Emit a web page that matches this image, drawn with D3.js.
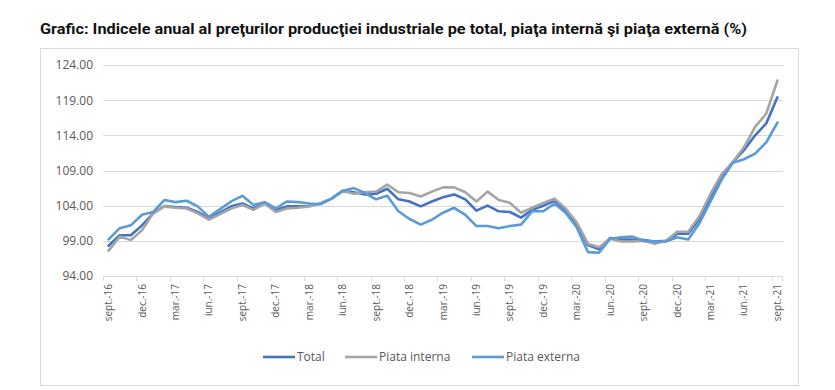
<!DOCTYPE html>
<html><head><meta charset="utf-8">
<script src="https://cdn.jsdelivr.net/npm/d3@7"></script>
<style>body{margin:0;background:#fff}svg{display:block}</style>
</head><body>
<svg id="c" width="835" height="390"></svg>
<script>
const months = ["sept.-16","oct.-16","nov.-16","dec.-16","ian.-17","feb.-17","mar.-17","apr.-17","mai-17","iun.-17","iul.-17","aug.-17",
"sept.-17","oct.-17","nov.-17","dec.-17","ian.-18","feb.-18","mar.-18","apr.-18","mai-18","iun.-18","iul.-18","aug.-18",
"sept.-18","oct.-18","nov.-18","dec.-18","ian.-19","feb.-19","mar.-19","apr.-19","mai-19","iun.-19","iul.-19","aug.-19",
"sept.-19","oct.-19","nov.-19","dec.-19","ian.-20","feb.-20","mar.-20","apr.-20","mai-20","iun.-20","iul.-20","aug.-20",
"sept.-20","oct.-20","nov.-20","dec.-20","ian.-21","feb.-21","mar.-21","apr.-21","mai-21","iun.-21","iul.-21","aug.-21","sept.-21"];
const tickLabels = ["sept.-16","dec.-16","mar.-17","iun.-17","sept.-17","dec.-17","mar.-18","iun.-18","sept.-18","dec.-18","mar.-19",
"iun.-19","sept.-19","dec.-19","mar.-20","iun.-20","sept.-20","dec.-20","mar.-21","iun.-21","sept.-21"];
const yTicks = [94,99,104,109,114,119,124];
const total = [98.3,99.8,99.8,101.2,102.9,103.95,103.8,103.7,103.1,102.2,103.0,103.9,104.3,103.6,104.4,103.4,103.9,103.9,103.95,104.3,
105.0,106.1,105.9,105.6,105.7,106.4,104.9,104.6,103.9,104.6,105.2,105.6,104.9,103.3,104.0,103.2,103.1,102.3,103.4,104.0,
104.7,103.3,101.4,98.4,97.8,99.4,99.2,99.2,99.1,98.9,99.0,100.0,100.0,102.1,105.2,108.0,110.2,111.9,114.0,115.7,119.4];
const interna = [97.6,99.6,99.1,100.5,102.9,103.9,103.7,103.6,102.9,102.0,102.8,103.6,104.1,103.4,104.3,103.1,103.6,103.7,103.9,104.3,
105.0,106.1,105.7,105.9,106.0,107.0,105.9,105.8,105.3,106.0,106.6,106.6,105.9,104.6,106.0,104.8,104.4,103.0,103.7,104.4,
105.0,103.6,101.6,98.6,98.1,99.3,98.9,98.9,99.0,98.6,99.0,100.3,100.3,102.5,105.7,108.5,110.2,112.3,115.2,117.1,121.8];
const externa = [99.2,100.8,101.2,102.7,103.1,104.8,104.5,104.7,103.9,102.4,103.5,104.6,105.4,104.1,104.5,103.6,104.6,104.5,104.3,104.2,
105.0,106.1,106.5,105.8,104.9,105.4,103.2,102.1,101.3,102.0,103.0,103.7,102.7,101.1,101.1,100.8,101.1,101.3,103.2,103.2,
104.3,103.0,100.9,97.4,97.3,99.3,99.5,99.6,99.0,98.9,98.9,99.5,99.2,101.5,104.6,107.7,110.1,110.6,111.4,113.0,115.8];
const seriesNames = ["Total","Piata interna","Piata externa"];
const seriesColors = ["#4472C4","#A5A5A5","#5B9BD5"];

const svg = d3.select("#c");
const L = 103, R = 783, T = 65, B = 276;
const x = d3.scaleBand().domain(months).range([L, R]).paddingInner(0).paddingOuter(0);
const y = d3.scaleLinear().domain([94,124]).range([B, T]);
const cx = m => x(m) + x.bandwidth()/2;

// frame
svg.append("rect").attr("x",40.5).attr("y",48.5).attr("width",758).attr("height",337)
  .attr("fill","none").attr("stroke","#D9D9D9").attr("stroke-width",1);

// title
svg.append("text").attr("x",40).attr("y",34)
  .attr("font-family","'Liberation Sans Narrow','Roboto','Open Sans',sans-serif")
  .attr("font-weight","bold").attr("font-size",15).attr("fill","#111")
  .attr("textLength",707).attr("lengthAdjust","spacingAndGlyphs")
  .text("Grafic: Indicele anual al preţurilor producţiei industriale pe total, piaţa internă şi piaţa externă (%)");

// gridlines
svg.append("g").selectAll("line").data(yTicks.filter(d=>d>94)).join("line")
  .attr("x1",L).attr("x2",R).attr("y1",d=>Math.round(y(d))+0.5).attr("y2",d=>Math.round(y(d))+0.5)
  .attr("stroke","#D9D9D9").attr("stroke-width",1);

// y axis labels
const yAxis = d3.axisLeft(y).tickValues(yTicks).tickFormat(d3.format(".2f")).tickSize(0).tickPadding(10);
const gy = svg.append("g").attr("transform",`translate(${L},0)`).call(yAxis);
gy.select(".domain").remove();
gy.selectAll("text").attr("font-family","'Open Sans',sans-serif").attr("font-size",12).attr("fill","#595959");

// x axis
const xAxis = d3.axisBottom(x).tickValues(tickLabels).tickSize(0).tickPadding(0);
const gx = svg.append("g").attr("transform",`translate(0,${B})`).call(xAxis);
gx.select(".domain").attr("stroke","#D9D9D9").attr("d",`M${L},0.5H${R}`);
gx.selectAll(".tick text").attr("font-family","'Open Sans',sans-serif").attr("font-size",10).attr("fill","#595959")
  .attr("transform","rotate(-90)").attr("text-anchor","end").attr("x",-8).attr("y",0).attr("dy","0.35em");
// boundary tick marks every 3 categories
svg.append("g").selectAll("line").data(tickLabels).join("line")
  .attr("x1",d=>Math.round(x(d))+0.5).attr("x2",d=>Math.round(x(d))+0.5)
  .attr("y1",B).attr("y2",B+5).attr("stroke","#D9D9D9");
svg.append("line").attr("x1",R-0.5).attr("x2",R-0.5).attr("y1",B).attr("y2",B+5).attr("stroke","#D9D9D9");

// lines
const data = [total, interna, externa];
const line = d3.line().x((d,i)=>cx(months[i])).y(d=>y(d));
svg.append("g").selectAll("path").data(data).join("path")
  .attr("d",d=>line(d)).attr("fill","none")
  .attr("stroke",(d,i)=>seriesColors[i]).attr("stroke-width",2.6)
  .attr("stroke-linejoin","round").attr("stroke-linecap","round");

// legend
const legX = [263, 345, 472];
const lg = svg.append("g").selectAll("g").data(seriesNames).join("g")
  .attr("transform",(d,i)=>`translate(${legX[i]},357)`);
lg.append("line").attr("x1",0).attr("x2",32).attr("y1",0).attr("y2",0)
  .attr("stroke",(d,i)=>seriesColors[i]).attr("stroke-width",2.6);
lg.append("text").attr("x",34).attr("y",0).attr("dy","0.35em")
  .attr("font-family","'Open Sans',sans-serif").attr("font-size",12).attr("fill","#595959").text(d=>d);
</script>
</body></html>
